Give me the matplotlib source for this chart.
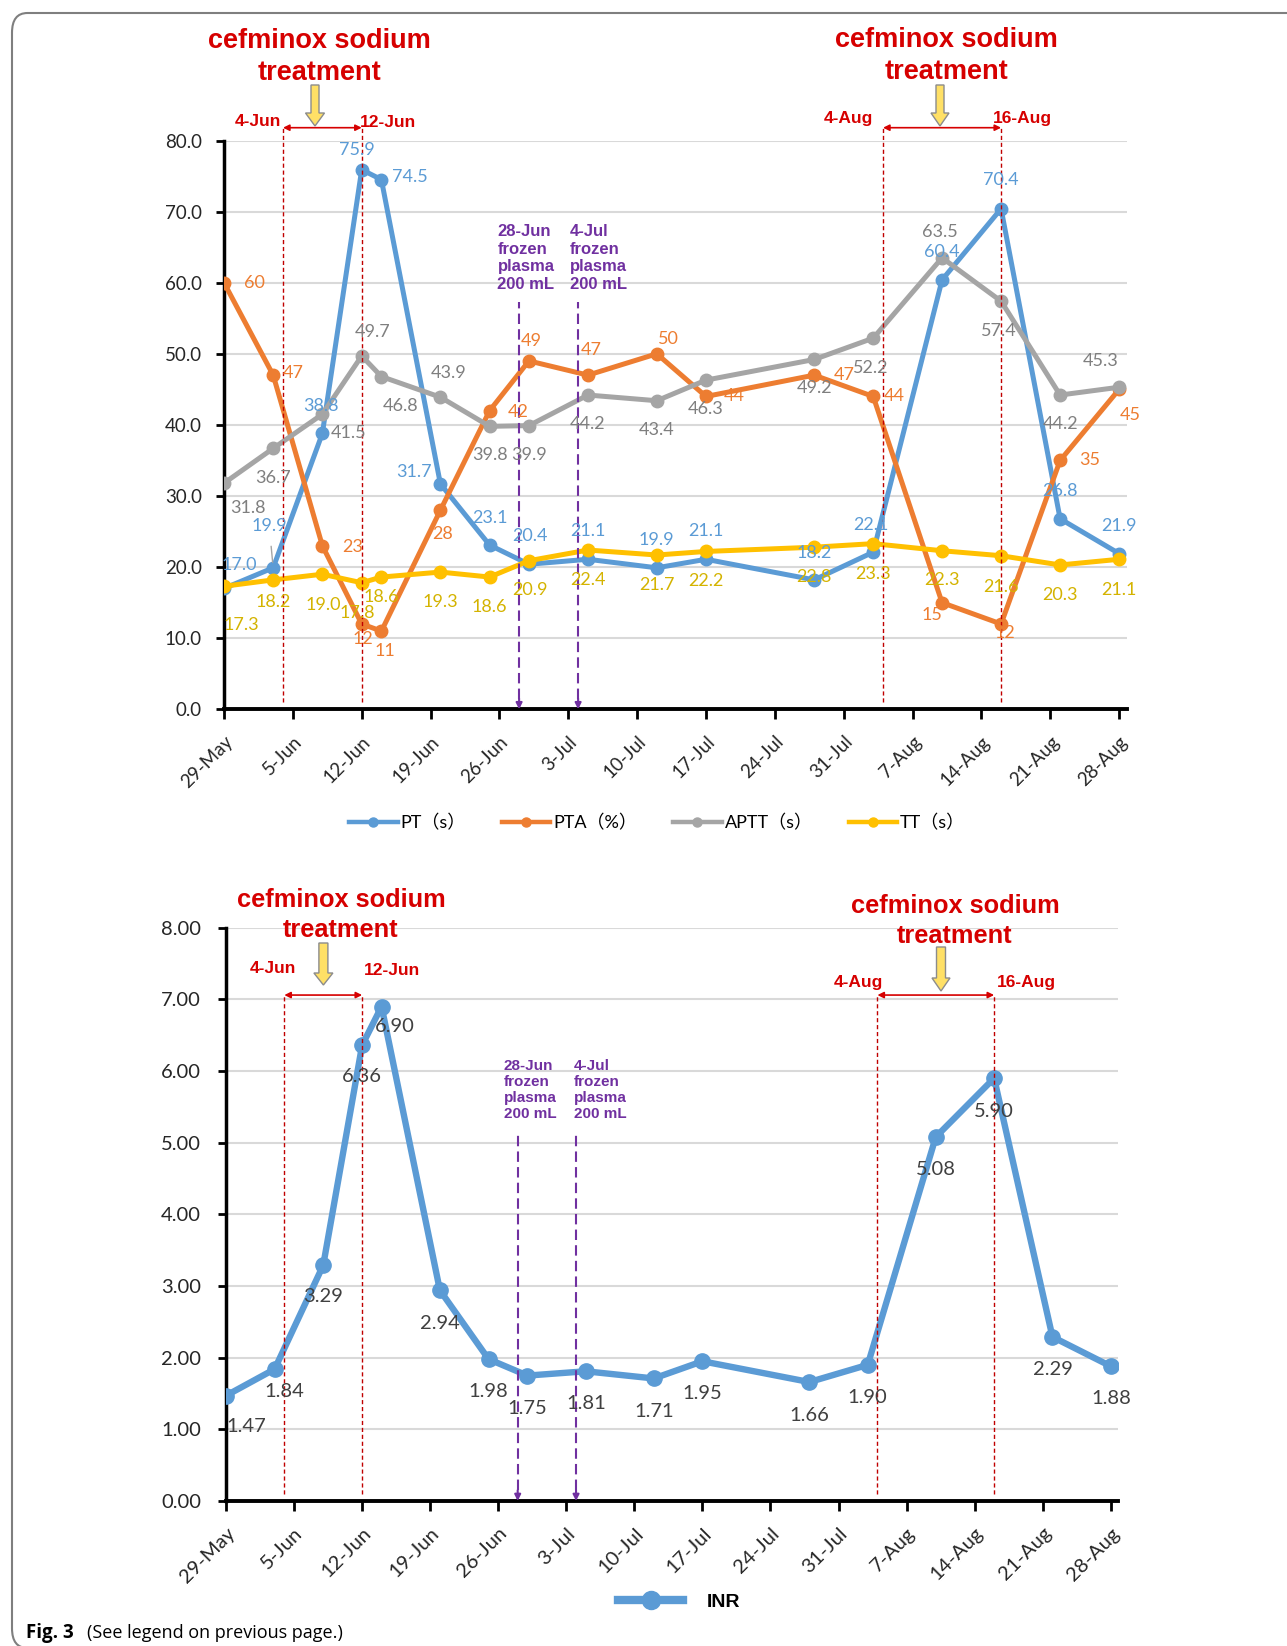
import matplotlib
matplotlib.use("Agg")
import matplotlib.pyplot as plt
from matplotlib.lines import Line2D
from matplotlib.patches import Polygon, FancyBboxPatch
from matplotlib.transforms import ScaledTranslation

plt.rcParams["font.family"] = ["Lato", "Noto Sans CJK SC", "DejaVu Sans"]

W, H = 1287, 1646

# sampling dates, as days after 29-May
days = [0, 5, 10, 14, 16, 22, 27, 31, 37, 44, 49, 60, 66, 73, 79, 85, 91]
pt = [17.0, 19.9, 38.8, 75.9, 74.5, 31.7, 23.1, 20.4, 21.1, 19.9, 21.1, 18.2, 22.1, 60.4, 70.4, 26.8, 21.9]
pta = [60, 47, 23, 12, 11, 28, 42, 49, 47, 50, 44, 47, 44, 15, 12, 35, 45]
aptt = [31.8, 36.7, 41.5, 49.7, 46.8, 43.9, 39.8, 39.9, 44.2, 43.4, 46.3, 49.2, 52.2, 63.5, 57.4, 44.2, 45.3]
tt = [17.3, 18.2, 19.0, 17.8, 18.6, 19.3, 18.6, 20.9, 22.4, 21.7, 22.2, 22.8, 23.3, 22.3, 21.6, 20.3, 21.1]
inr = [1.47, 1.84, 3.29, 6.36, 6.90, 2.94, 1.98, 1.75, 1.81, 1.71, 1.95, 1.66, 1.90, 5.08, 5.90, 2.29, 1.88]

tick_days = list(range(0, 92, 7))
tick_labels = ["29-May", "5-Jun", "12-Jun", "19-Jun", "26-Jun", "3-Jul", "10-Jul",
               "17-Jul", "24-Jul", "31-Jul", "7-Aug", "14-Aug", "21-Aug", "28-Aug"]

treat_days = [(6, 14), (67, 79)]          # 4-Jun..12-Jun, 4-Aug..16-Aug
treat_labels = [("4-Jun", "12-Jun"), ("4-Aug", "16-Aug")]
plasma_days = [30, 36]                    # 28-Jun, 4-Jul
plasma_labels = ["28-Jun\nfrozen\nplasma\n200 mL", "4-Jul\nfrozen\nplasma\n200 mL"]

# data label offsets in pixels (dx, dy up)
pt_off = [(15, 23), (-4, 42), (-1, 27), (-5, 20), (28, 3), (-26, 12), (0, 27), (1, 28), (0, 28),
          (0, 28), (0, 28), (0, 27), (-2, 27), (0, 28), (0, 29), (0, 28), (0, 28)]
pta_off = [(30, 0), (20, 2), (30, -1), (1, -15), (4, -20), (2, -24), (29, -1), (2, 20), (3, 25),
           (12, 15), (28, 0), (30, 0), (21, 0), (-10, -12), (4, -9), (30, 0), (11, -26)]
aptt_off = [(24, -25), (0, -30), (26, -19), (11, 24), (19, -29), (8, 24), (0, -29), (0, -29), (0, -29),
            (0, -29), (0, -29), (0, -29), (-2, -30), (-2, 26), (-2, -30), (0, -29), (-19, 26)]
tt_off = [(17, -39), (0, -22), (1, -31), (-4, -30), (0, -20), (0, -30), (0, -30), (1, -29), (0, -30),
          (0, -30), (0, -30), (0, -30), (0, -30), (0, -29), (0, -31), (0, -30), (0, -31)]
inr_off = [(20, -31), (10, -22), (0, -31), (0, -31), (13, -20), (0, -33), (0, -32), (0, -33), (0, -32),
           (0, -33), (0, -32), (0, -33), (0, -33), (0, -33), (0, -33), (0, -33), (0, -32)]

RED = "#d60000"
VRED = "#c00000"
PURPLE = "#7030a0"

fig = plt.figure(figsize=(W / 100, H / 100), dpi=100)


def fx(x):
    return x / W


def fy(y):
    return 1 - y / H


def ftext(x, y, s, **kw):
    fig.text(fx(x), fy(y), s, **kw)


def down_arrow(cx, top, neck, tip, shaft_w=9, head_w=20):
    pts = [(cx - shaft_w / 2, top), (cx + shaft_w / 2, top), (cx + shaft_w / 2, neck),
           (cx + head_w / 2, neck), (cx, tip), (cx - head_w / 2, neck), (cx - shaft_w / 2, neck)]
    fig.add_artist(Polygon([(fx(x), fy(y)) for x, y in pts], closed=True, transform=fig.transFigure,
                           facecolor="#ffe066", edgecolor="#8c8c8c", lw=1, zorder=5))


def style_axes(ax, ymax, step, fmt, fs, ypad, xpad):
    ax.set_ylim(0, ymax)
    ax.set_yticks([step * i for i in range(int(round(ymax / step)) + 1)])
    ax.yaxis.set_major_formatter(plt.FormatStrFormatter(fmt))
    ax.set_xticks(tick_days)
    ax.set_xticklabels(tick_labels, rotation=45, ha="right", va="top", rotation_mode="anchor")
    for lab in ax.get_xticklabels():
        lab.set_transform(lab.get_transform() + ScaledTranslation(0.04, 0, fig.dpi_scale_trans))
    ax.grid(axis="y", color="#d9d9d9", lw=1.5)
    ax.set_axisbelow(True)
    for s in ("top", "right"):
        ax.spines[s].set_visible(False)
    ax.spines["left"].set_linewidth(2.5)
    ax.spines["bottom"].set_linewidth(2.8)
    ax.tick_params(axis="x", length=7, width=2, pad=xpad, labelsize=fs, labelcolor="#262626")
    ax.tick_params(axis="y", length=6, width=2, pad=ypad, labelsize=fs, labelcolor="#262626")


def events(ax, y_top_red, y_top_purple, y_bot):
    for a, b in treat_days:
        for d in (a, b):
            ax.plot([d, d], [y_bot, y_top_red], color=VRED, lw=1, ls=(0, (3, 2)), clip_on=False, zorder=4)
        ax.annotate("", xy=(b, y_top_red), xytext=(a, y_top_red), annotation_clip=False,
                    arrowprops=dict(arrowstyle="<|-|>", color=RED, lw=1.2, mutation_scale=9,
                                    shrinkA=0, shrinkB=0))
    for d in plasma_days:
        ax.plot([d, d], [y_bot * 1.5, y_top_purple], color=PURPLE, lw=1.5, ls=(0, (5, 2.5)), zorder=4)
        ax.annotate("", xy=(d, 0), xytext=(d, y_bot * 1.5), annotation_clip=False,
                    arrowprops=dict(arrowstyle="-|>", color=PURPLE, lw=1.5, mutation_scale=9,
                                    shrinkA=0, shrinkB=0))


# ---------------- top chart ----------------
ax1 = fig.add_axes([fx(224), fy(709.3), (1127 - 224) / W, (709.3 - 140.5) / H])
ax1.set_xlim(0, 91.8)
style_axes(ax1, 80, 10, "%.1f", 13.5, 10, 10)

series = [
    (pt, "PT（s）", "#5b9bd5", "#5b9bd5", pt_off, "{:.1f}"),
    (pta, "PTA（%）", "#ed7d31", "#ed7d31", pta_off, "{:d}"),
    (aptt, "APTT（s）", "#a5a5a5", "#7f7f7f", aptt_off, "{:.1f}"),
    (tt, "TT（s）", "#ffc000", "#d4b300", tt_off, "{:.1f}"),
]
handles = []
for vals, name, col, lcol, offs, fmt in series:
    ax1.plot(days, vals, color=col, lw=3.6, marker="o", ms=9, zorder=3)
    handles.append(Line2D([], [], color=col, lw=3.2, marker="o", ms=6.5))
    for i, (d, v, (dx, dy)) in enumerate(zip(days, vals, offs)):
        kw = {}
        if vals is pt and i == 1:
            kw["arrowprops"] = dict(arrowstyle="-", color="#a5a5a5", lw=1, shrinkA=7, shrinkB=4)
        ax1.annotate(fmt.format(v), (d, v), xytext=(dx, dy), textcoords="offset pixels",
                     ha="center", va="center", color=lcol, fontsize=13, zorder=6, **kw)

events(ax1, 81.8, 57.3, 1.0)

fig.legend(handles, [s[1] for s in series], loc="center", bbox_to_anchor=(fx(657), fy(823)),
           ncol=4, frameon=False, fontsize=13, handlelength=2.7, handletextpad=0.15, columnspacing=2.0)

# ---------------- bottom chart ----------------
ax2 = fig.add_axes([fx(226), fy(1501), (1118 - 226) / W, (1501 - 927.7) / H])
ax2.set_xlim(0, 91.74)
style_axes(ax2, 8, 1, "%.2f", 14.5, 12, 10)

ax2.plot(days, inr, color="#5b9bd5", lw=4.6, marker="o", ms=11, zorder=3)
for d, v, (dx, dy) in zip(days, inr, inr_off):
    ax2.annotate("{:.2f}".format(v), (d, v), xytext=(dx, dy), textcoords="offset pixels",
                 ha="center", va="center", color="#404040", fontsize=14.5, zorder=6)

events(ax2, 7.06, 5.13, 0.1)

fig.legend([Line2D([], [], color="#5b9bd5", lw=6, marker="o", ms=13)], ["INR"], loc="center",
           bbox_to_anchor=(fx(679), fy(1602)), frameon=False, handlelength=3.35, handletextpad=1.2,
           prop=dict(family="Liberation Sans", weight="bold", size=14))

# ---------------- annotations ----------------
title_kw = dict(ha="center", va="baseline", color=RED, fontweight="bold", family="Liberation Sans")
for cx, b1, b2, fs in [(319, 48, 80, 19.5), (946.5, 47, 79, 19.5), (341, 907, 937, 18.3), (955, 913, 943, 18.3)]:
    ftext(cx, b1, "cefminox sodium", fontsize=fs, **title_kw)
    ftext(cx, b2, "treatment", fontsize=fs, **title_kw)

down_arrow(315, 85, 113, 126, 8, 19)
down_arrow(940, 85, 113, 126, 8, 18)
down_arrow(323.4, 943, 973, 985, 9, 19)
down_arrow(941, 947, 978, 991, 9, 18)

date_kw = dict(va="baseline", color=RED, fontweight="bold", family="Liberation Sans", fontsize=12.5)
ftext(281, 126, treat_labels[0][0], ha="right", **date_kw)
ftext(360, 127, treat_labels[0][1], ha="left", **date_kw)
ftext(873, 122.7, treat_labels[1][0], ha="right", **date_kw)
ftext(993, 122.7, treat_labels[1][1], ha="left", **date_kw)
ftext(296, 972.7, treat_labels[0][0], ha="right", **date_kw)
ftext(364, 975, treat_labels[0][1], ha="left", **date_kw)
ftext(883.5, 986.7, treat_labels[1][0], ha="right", **date_kw)
ftext(997, 986.7, treat_labels[1][1], ha="left", **date_kw)

pl_kw = dict(ha="left", va="center", color=PURPLE, fontweight="bold", family="Liberation Sans")
ftext(497.5, 258, plasma_labels[0], fontsize=12, **pl_kw)
ftext(570, 258, plasma_labels[1], fontsize=12, **pl_kw)
ftext(503.7, 1090, plasma_labels[0], fontsize=11, **pl_kw)
ftext(574.2, 1090, plasma_labels[1], fontsize=11, **pl_kw)

# page frame and caption
fig.add_artist(FancyBboxPatch((fx(12), fy(1648)), 1.1, (1648 - 13) / H,
                              boxstyle="round,pad=0,rounding_size=0.012", transform=fig.transFigure,
                              facecolor="none", edgecolor="#7f7f7f", lw=1.5))
ftext(26, 1633, "Fig. 3", family="Open Sans", fontweight="bold", fontsize=13.5, va="center")
ftext(87, 1633, "(See legend on previous page.)", family="Open Sans", fontsize=13, va="center")

fig.savefig("out.png", dpi=100)
